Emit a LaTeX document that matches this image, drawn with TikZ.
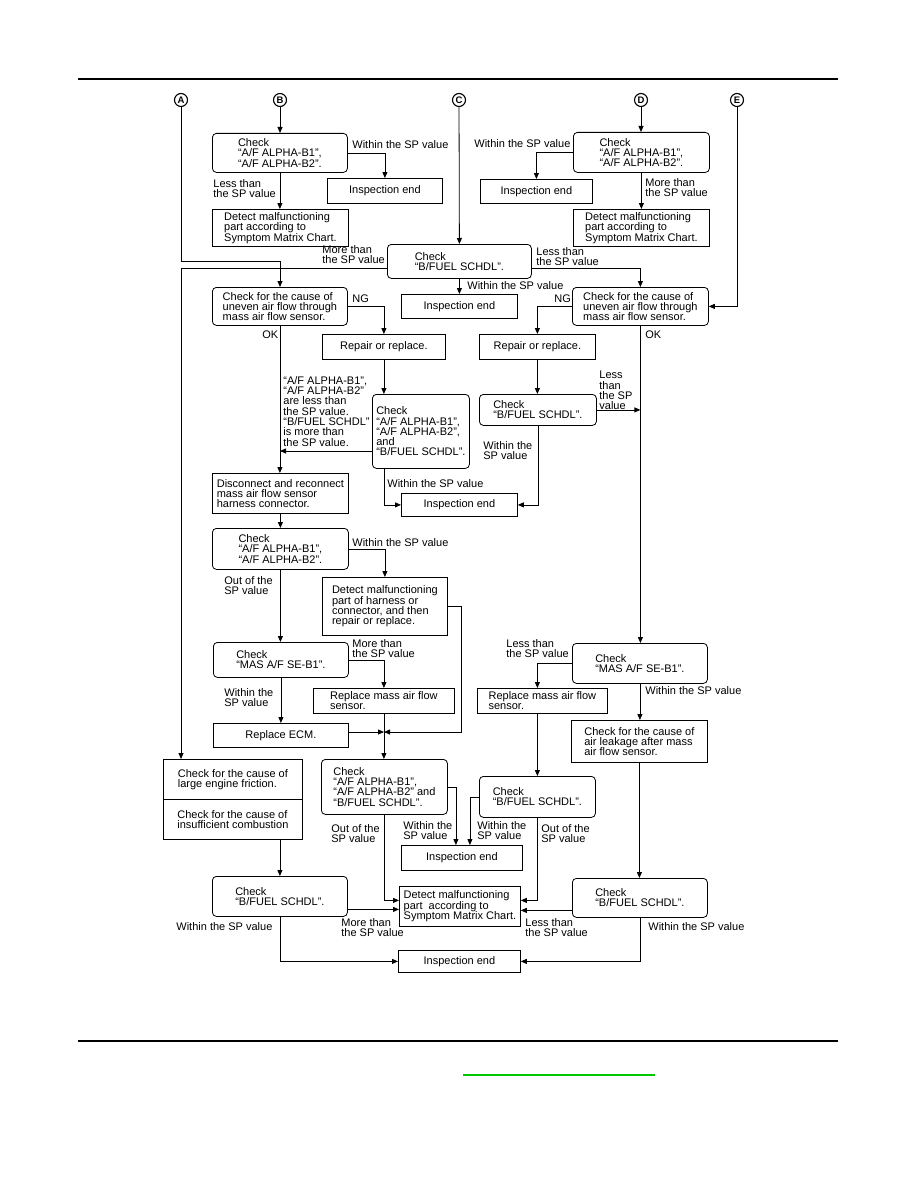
\documentclass[tikz,border=0pt]{standalone}
\usepackage{fontspec}
\setmainfont{Liberation Sans}
\usetikzlibrary{arrows.meta}

\definecolor{linkgreen}{RGB}{0,200,0}

\tikzset{
	chkbox/.style={draw, rounded corners=4pt, align=left, anchor=north west, inner sep=2pt},
	actbox/.style={draw, align=left, anchor=north west, inner sep=2pt},
	lbl/.style={align=left, anchor=north west, inner sep=0pt},
	conn/.style={circle, draw, line width=1.1pt, minimum size=13pt, inner sep=0pt, font=\fontsize{9.5}{9.5}\selectfont\bfseries},
	arr/.style={-{Triangle[length=6pt,width=5pt]}},
}

\begin{document}
\begin{tikzpicture}[x=1pt, y=-1pt, line width=0.8pt, font=\fontsize{11}{10.3}\selectfont]
	\useasboundingbox (0,0) rectangle (918,1188);
	\draw[line width=2pt] (78,79) -- (838,79);
	\draw[line width=2pt] (78,1041) -- (838,1041);
	\draw[line width=1.5pt, linkgreen] (463,1075) -- (655,1075);

	% entry points
	\foreach \n/\x in {A/181, B/280, C/459, D/641, E/737}
		\node[conn] (c\n) at (\x,100) {\n};

	% boxes
	\node[chkbox, minimum width=135, minimum height=39] (b1) at (212,133) {Check\\“A/F ALPHA-B1”,\\“A/F ALPHA-B2”.};
	\node[actbox, minimum width=136, minimum height=37] (dm1) at (212,209) {Detect malfunctioning\\part according to\\Symptom Matrix Chart.};
	\node[chkbox, minimum width=136, minimum height=40] (d1) at (573,132) {Check\\“A/F ALPHA-B1”,\\“A/F ALPHA-B2”.};
	\node[actbox, minimum width=136, minimum height=37] (dm2) at (573,209) {Detect malfunctioning\\part according to\\Symptom Matrix Chart.};
	\node[chkbox, minimum width=144, minimum height=34] (c1) at (387,244) {Check\\“B/FUEL SCHDL”.};
	\node[chkbox, minimum width=135, minimum height=38] (unL) at (212,287) {Check for the cause of\\uneven air flow through\\mass air flow sensor.};
	\node[chkbox, minimum width=136, minimum height=38] (unR) at (572,287) {Check for the cause of\\uneven air flow through\\mass air flow sensor.};
	\node[actbox, minimum width=123, minimum height=25] (rpL) at (322,334) {Repair or replace.};
	\node[actbox, minimum width=116, minimum height=25] (rpR) at (479,334) {Repair or replace.};
	\node[chkbox, minimum width=97, minimum height=74] (c3) at (372,394) {Check\\“A/F ALPHA-B1”,\\“A/F ALPHA-B2”,\\and\\“B/FUEL SCHDL”.};
	\node[chkbox, minimum width=117, minimum height=31] (bfR) at (479,394) {Check\\“B/FUEL SCHDL”.};
	\node[actbox, minimum width=136, minimum height=40] (dis) at (212,473) {Disconnect and reconnect\\mass air flow sensor\\harness connector.};
	\node[chkbox, minimum width=136, minimum height=41] (c4) at (212,528) {Check\\“A/F ALPHA-B1”,\\“A/F ALPHA-B2”.};
	\node[actbox, minimum width=125, minimum height=58] (dh) at (322,577) {Detect malfunctioning\\part of harness or\\connector, and then\\repair or replace.};
	\node[chkbox, minimum width=135, minimum height=35] (masL) at (213,642) {Check\\“MAS A/F SE-B1”.};
	\node[actbox, minimum width=141, minimum height=25] (rmL) at (313,688) {Replace mass air flow\\sensor.};
	\node[actbox, minimum width=135, minimum height=24] (ecm) at (213,723) {Replace ECM.};
	\node[chkbox, minimum width=135, minimum height=40] (masR) at (572,643) {Check\\“MAS A/F SE-B1”.};
	\node[actbox, minimum width=130, minimum height=25] (rmR) at (477,688) {Replace mass air flow\\sensor.};
	\node[actbox, minimum width=136, minimum height=42] (al) at (571,720) {Check for the cause of\\air leakage after mass\\air flow sensor.};
	\node[actbox, minimum width=139, minimum height=40] (frA) at (163,759) {Check for the cause of\\large engine friction.};
	\node[actbox, minimum width=139, minimum height=40] (frB) at (163,799) {Check for the cause of\\insufficient combustion};
	\node[chkbox, minimum width=126, minimum height=55] (c5) at (321,759) {Check\\“A/F ALPHA-B1”,\\“A/F ALPHA-B2” and\\“B/FUEL SCHDL”.};
	\node[chkbox, minimum width=116, minimum height=41] (bfM) at (479,776) {Check\\“B/FUEL SCHDL”.};
	\node[chkbox, minimum width=135, minimum height=40] (bfL) at (212,876) {Check\\“B/FUEL SCHDL”.};
	\node[actbox, minimum width=121, minimum height=40] (dmF) at (399,886) {Detect malfunctioning\\part\ \ according to\\Symptom Matrix Chart.};
	\node[chkbox, minimum width=135, minimum height=39] (bfR3) at (572,878) {Check\\“B/FUEL SCHDL”.};
	\foreach \n/\x/\y/\w/\h in {1/327/178/115/25, 2/480/179/112/24, 3/401/294/116/24, 4/401/493/116/23, 5/401/845/121/25, 6/398/950/122/22}
		\node[actbox, minimum width=\w, minimum height=\h] (ie\n) at (\x,\y) {Inspection end};

	% bends and joins
	\coordinate (jA) at (280,261);
	\coordinate (jC) at (181,268);
	\coordinate (jL) at (280,451);
	\coordinate (mrg) at (384,732);
	\coordinate (jH) at (461,732);
	\coordinate (dfa) at ([yshift=6pt]dmF.west);
	\coordinate (dfb) at ([yshift=-3pt]dmF.west);
	\coordinate (dfc) at ([yshift=6pt]dmF.east);
	\coordinate (dfd) at ([yshift=-4pt]dmF.east);

	% connectors
	\draw[arr] (cA) |- (jA) -- (jA |- unL.north);
	\draw[arr] (cB) -- (cB |- b1.north);
	\draw[arr] (b1.east) -| (ie1.north);
	\draw[arr] (b1.south) -- (b1.south |- dm1.north);
	\draw[arr] (cC) -- (c1.north);
	\draw[arr] (c1.west |- jC) -- (jC) -- (jC |- frA.north);
	\draw[arr] (c1.east |- jC) -| (unR.north);
	\draw[arr] (c1.south) -- (c1.south |- ie3.north);
	\draw[arr] (cD) -- (cD |- d1.north);
	\draw[arr] (d1.west) -| (ie2.north);
	\draw[arr] (d1.south) -- (d1.south |- dm2.north);
	\draw[arr] (cE) |- (unR.east);
	\draw[arr] (unL.east) -| (rpL.north);
	\draw[arr] (unL.south) -- (unL.south |- dis.north);
	\draw[arr] (rpL.south) -- (rpL.south |- c3.north);
	\draw[arr] (c3.west |- jL) -- (jL);
	\draw[arr] (c3.south -| rpL.south) |- (ie4.west);
	\draw[arr] (unR.west) -| (rpR.north);
	\draw[arr] (rpR.south) -- (rpR.south |- bfR.north);
	\draw[arr] (bfR.east) -- (bfR.east -| unR.south);
	\draw[arr] (bfR.south) |- (ie4.east);
	\draw[arr] (unR.south) -- (unR.south |- masR.north);
	\draw[arr] (dis.south) -- (dis.south |- c4.north);
	\draw[arr] (c4.east) -| (dh.north);
	\draw[arr] (c4.south) -- (c4.south |- masL.north);
	\draw[arr] (dh.east) -| (jH) -- (mrg);
	\draw[arr] (masL.east) -| (rmL.north);
	\draw[arr] (masL.south) -- (masL.south |- ecm.north);
	\draw[arr] (ecm.east |- mrg) -- (mrg);
	\draw[arr] (rmL.south) -- (rmL.south |- c5.north);
	\draw[arr] (masR.west) -| (rmR.north -| bfM.north);
	\draw[arr] (masR.south) -- (masR.south |- al.north);
	\draw[arr] (rmR.south -| bfM.north) -- (bfM.north);
	\draw[arr] (al.south) -- (al.south |- bfR3.north);
	\draw[arr] (frB.south -| bfL.north) -- (bfL.north);
	\draw[arr] (c5.east) -| ([xshift=-6pt]ie5.north);
	\draw[arr] (bfM.west) -| ([xshift=8pt]ie5.north);
	\draw[arr] (c5.south) |- (dfa);
	\draw[arr] (bfL.east |- dfb) -- (dfb);
	\draw[arr] (bfM.south) |- (dfc);
	\draw[arr] (bfR3.west |- dfd) -- (dfd);
	\draw[arr] (bfL.south) |- (ie6.west);
	\draw[arr] (bfR3.south) |- (ie6.east);

	% branch labels
	\node[lbl] (l1) at (352,140) {Within the SP value};
	\node[lbl] (l2) at (213,179) {Less than\\the SP value};
	\node[lbl] (l3) at (322,245) {More than\\the SP value};
	\node[lbl] (l4) at (352,294) {NG};
	\node[lbl] (l5) at (474,139) {Within the SP value};
	\node[lbl] (l6) at (645,178) {More than\\the SP value};
	\node[lbl] (l7) at (536,247) {Less than\\the SP value};
	\node[lbl] (l8) at (467,281) {Within the SP value};
	\node[lbl] (l9) at (554,294) {NG};
	\node[lbl] (l10) at (645,330) {OK};
	\node[lbl] (l11) at (262,330) {OK};
	\node[lbl] (l12) at (283,376) {“A/F ALPHA-B1”,\\“A/F ALPHA-B2”\\are less than\\the SP value.\\“B/FUEL SCHDL”\\is more than\\the SP value.};
	\node[lbl] (l13) at (387,479) {Within the SP value};
	\node[lbl] (l14) at (599,371) {Less\\than\\the SP\\value};
	\node[lbl] (l15) at (483,441) {Within the\\SP value};
	\node[lbl] (l16) at (352,538) {Within the SP value};
	\node[lbl] (l17) at (224,576) {Out of the\\SP value};
	\node[lbl] (l18) at (352,639) {More than\\the SP value};
	\node[lbl] (l19) at (224,688) {Within the\\SP value};
	\node[lbl] (l20) at (506,639) {Less than\\the SP value};
	\node[lbl] (l21) at (645,686) {Within the SP value};
	\node[lbl] (l22) at (331,824) {Out of the\\SP value};
	\node[lbl] (l23) at (403,821) {Within the\\SP value};
	\node[lbl] (l24) at (176,922) {Within the SP value};
	\node[lbl] (l25) at (341,918) {More than\\the SP value};
	\node[lbl] (l26) at (477,821) {Within the\\SP value};
	\node[lbl] (l27) at (541,824) {Out of the\\SP value};
	\node[lbl] (l28) at (525,918) {Less than\\the SP value};
	\node[lbl] (l29) at (648,922) {Within the SP value};
\end{tikzpicture}
\end{document}
